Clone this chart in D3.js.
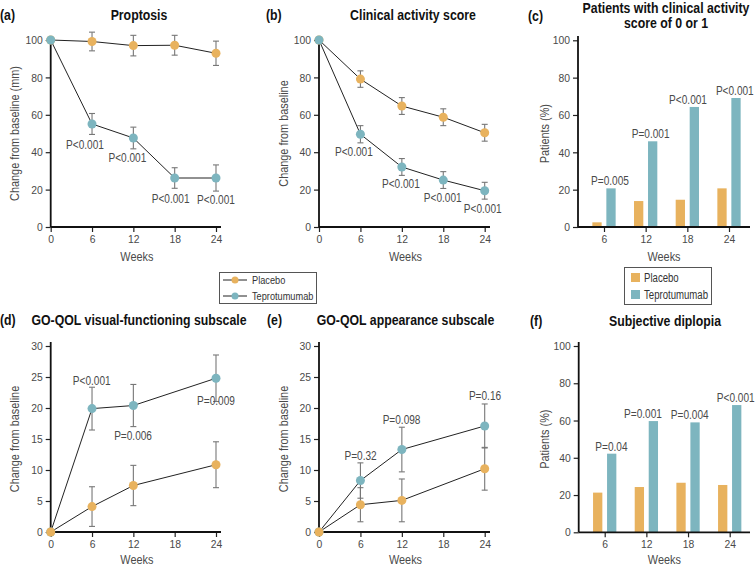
<!DOCTYPE html>
<html><head><meta charset="utf-8">
<script src="https://cdn.jsdelivr.net/npm/d3@7"></script>
<style>
body{margin:0;background:#fff;}
svg text{font-family:"Liberation Sans",Arial,sans-serif;}
</style></head><body>
<svg id="c" width="755" height="566"></svg>
<script>
// ---------- DATA ----------
const weeks = [0, 6, 12, 18, 24];
const weeksD = [0, 6, 12, 24];
const barWeeks = ["6", "12", "18", "24"];
const seriesNames = ["Placebo", "Teprotumumab"];

// (a) Proptosis
const propPlacebo = [100, 99.2, 97.0, 97.2, 92.9];
const propPlaceboErr = [0, 5.0, 5.5, 5.3, 6.5];
const propTepro = [100, 55.1, 47.6, 26.2, 26.2];
const propTeproErr = [0, 5.6, 5.8, 5.5, 7.0];
const propP = ["", "P<0.001", "P<0.001", "P<0.001", "P<0.001"];

// (b) Clinical activity score
const casPlacebo = [100, 79.1, 64.7, 58.7, 50.4];
const casPlaceboErr = [0, 4.4, 4.5, 4.5, 4.5];
const casTepro = [100, 49.6, 32.1, 25.1, 19.4];
const casTeproErr = [0, 4.6, 4.5, 4.5, 4.5];
const casP = ["", "P<0.001", "P<0.001", "P<0.001", "P<0.001"];

// (c) Patients with CAS 0 or 1
const cas01Placebo = [2.5, 13.9, 14.6, 20.7];
const cas01Tepro = [20.7, 45.9, 64.3, 69.1];
const cas01P = ["P=0.005", "P=0.001", "P<0.001", "P<0.001"];

// (d) GO-QOL visual functioning
const visPlacebo = [0, 4.1, 7.5, 10.85];
const visPlaceboErr = [0, 3.2, 3.25, 3.7];
const visTepro = [0, 19.9, 20.4, 24.8];
const visTeproErr = [0, 3.45, 3.4, 3.75];
const visP = ["", "P<0.001", "P=0.006", "P=0.009"];

// (e) GO-QOL appearance
const appPlacebo = [0, 4.4, 5.1, 10.2];
const appPlaceboErr = [0, 2.75, 3.45, 3.45];
const appTepro = [0, 8.3, 13.3, 17.1];
const appTeproErr = [0, 2.85, 3.6, 3.55];
const appP = ["", "P=0.32", "P=0.098", "P=0.16"];

// (f) Subjective diplopia
const dipPlacebo = [21.3, 24.3, 26.6, 25.4];
const dipTepro = [42.2, 59.7, 59.0, 68.3];
const dipP = ["P=0.04", "P=0.001", "P=0.004", "P<0.001"];

const yTicks100 = [0, 20, 40, 60, 80, 100];
const yTicks30 = [0, 5, 10, 15, 20, 25, 30];
const xTicks = [0, 6, 12, 18, 24];

// ---------- STYLE ----------
const cPlacebo = "#E8B25E";
const cTepro = "#7DB5BF";
const textCol = "#4a4a4a";
const svg = d3.select("#c");

function axes(g, x, y, yT, xT, xEnd, yTop, isBand) {
  const xa = (isBand ? d3.axisBottom(x) : d3.axisBottom(x).tickValues(xT))
    .tickSize(5).tickPadding(3).tickSizeOuter(0);
  const gx = g.append("g").attr("transform", `translate(0,${y.range()[0]})`).call(xa);
  const x0 = isBand ? +g.attr("data-x0") : x.range()[0];
  const ya = d3.axisLeft(y).tickValues(yT).tickSize(5).tickPadding(3).tickSizeOuter(0);
  const gy = g.append("g").attr("transform", `translate(${x0},0)`).call(ya);
  [gx, gy].forEach(a => {
    a.select(".domain").remove();
    a.selectAll(".tick line").attr("stroke", "#222").attr("stroke-width", 1.2);
    a.selectAll(".tick text").attr("fill", textCol).style("font-size", "11.5px").attr("data-k", 0.9);
  });
  g.append("line").attr("x1", x0).attr("x2", xEnd).attr("y1", y.range()[0]).attr("y2", y.range()[0])
    .attr("stroke", "#111").attr("stroke-width", 1.8);
  g.append("line").attr("x1", x0).attr("x2", x0).attr("y1", y.range()[0]).attr("y2", yTop)
    .attr("stroke", "#111").attr("stroke-width", 1.8);
}

function labels(g, letter, lx, ly, titleLines, tx, ty, ylab, ylx, yly, wx, wy) {
  g.append("text").attr("x", lx).attr("y", ly).attr("dominant-baseline", "central")
    .style("font-size", "15px").style("font-weight", "bold").attr("fill", "#111").text(letter);
  titleLines.forEach((t, i) => g.append("text").attr("x", tx).attr("y", ty + i * 14.5)
    .attr("text-anchor", "middle").attr("dominant-baseline", "central")
    .style("font-size", "15px").style("font-weight", "bold").attr("fill", "#111").text(t));
  g.append("text").attr("transform", `translate(${ylx},${yly}) rotate(-90)`)
    .attr("text-anchor", "middle").attr("dominant-baseline", "central").attr("data-k", 0.87)
    .style("font-size", "12.5px").attr("fill", textCol).text(ylab);
  g.append("text").attr("x", wx).attr("y", wy).attr("text-anchor", "middle").attr("dominant-baseline", "central")
    .attr("data-k", 0.87).style("font-size", "12.5px").attr("fill", textCol).text("Weeks");
}

function linePanel(cfg) {
  const g = svg.append("g");
  const x = d3.scaleLinear().domain([0, 24]).range([cfg.x0, cfg.x1]);
  const y = d3.scaleLinear().domain(cfg.yDom).range([cfg.yb, cfg.yt]);
  axes(g, x, y, cfg.yTicks, xTicks, cfg.xEnd, cfg.yTop, false);
  const line = d3.line().x(d => x(d.w)).y(d => y(d.v));
  const series = [
    { vals: cfg.pl, err: cfg.plErr, col: cPlacebo },
    { vals: cfg.te, err: cfg.teErr, col: cTepro }
  ].map(s => ({ ...s, pts: cfg.w.map((w, i) => ({ w, v: s.vals[i], e: s.err[i] })) }));
  series.forEach(s => {
    s.pts.filter(p => p.e > 0).forEach(p => {
      const gx = x(p.w);
      g.append("line").attr("x1", gx).attr("x2", gx).attr("y1", y(p.v - p.e)).attr("y2", y(p.v + p.e))
        .attr("stroke", "#777").attr("stroke-width", 1.1);
      [p.v - p.e, p.v + p.e].forEach(v => g.append("line").attr("x1", gx - 3).attr("x2", gx + 3)
        .attr("y1", y(v)).attr("y2", y(v)).attr("stroke", "#777").attr("stroke-width", 1.1));
    });
  });
  series.forEach(s => g.append("path").datum(s.pts).attr("d", line).attr("fill", "none")
    .attr("stroke", "#222").attr("stroke-width", 1));
  const order = cfg.placeboOnTop ? [series[1], series[0]] : series;
  order.forEach(s => g.selectAll(null).data(s.pts).enter().append("circle")
    .attr("cx", d => x(d.w)).attr("cy", d => y(d.v)).attr("r", 4.5).attr("fill", s.col));
  cfg.pLabels.forEach((t, i) => {
    if (!t) return;
    const off = cfg.pOff[i];
    g.append("text").attr("x", x(cfg.w[i]) + off[0]).attr("y", y(cfg.te[i]) + off[1])
      .attr("text-anchor", "middle").attr("dominant-baseline", "central").attr("data-k", 0.84)
      .style("font-size", "12px").attr("fill", textCol).text(t);
  });
  labels(g, cfg.letter, cfg.lx, cfg.ly, cfg.title, cfg.tx, cfg.ty, cfg.ylab, cfg.ylx, (cfg.yb + cfg.yt) / 2, (cfg.x0 + cfg.xEnd) / 2 + 1, cfg.wy);
}

function barPanel(cfg) {
  const g = svg.append("g").attr("data-x0", cfg.x0);
  const x = d3.scalePoint().domain(barWeeks).range([cfg.x0 + 26, cfg.x0 + 151]);
  const x1 = d3.scaleBand().domain(seriesNames).range([-11.65, 11.65]).paddingInner(0.336);
  const y = d3.scaleLinear().domain([0, 100]).range([cfg.yb, cfg.yt]);
  [cfg.pl, cfg.te].forEach((vals, si) => {
    g.selectAll(null).data(vals).enter().append("rect")
      .attr("x", (d, i) => x(barWeeks[i]) + x1(seriesNames[si]))
      .attr("width", x1.bandwidth())
      .attr("y", d => y(d)).attr("height", d => y(0) - y(d))
      .attr("fill", si ? cTepro : cPlacebo);
  });
  axes(g, x, y, yTicks100, null, cfg.xEnd, cfg.yTop, true);
  cfg.pLabels.forEach((t, i) => {
    g.append("text").attr("x", x(barWeeks[i]) + cfg.pDx[i]).attr("y", y(cfg.te[i]) - 7)
      .attr("text-anchor", "middle").attr("dominant-baseline", "central").attr("data-k", 0.84)
      .style("font-size", "12px").attr("fill", textCol).text(t);
  });
  labels(g, cfg.letter, cfg.lx, cfg.ly, cfg.title, cfg.tx, cfg.ty, "Patients (%)", cfg.ylx, (cfg.yb + cfg.yt) / 2, (cfg.x0 + cfg.xEnd) / 2, cfg.wy);
}

linePanel({ x0: 50.7, x1: 216, xEnd: 221, yb: 227, yt: 40, yTop: 36, yDom: [0, 100], yTicks: yTicks100, w: weeks,
  pl: propPlacebo, plErr: propPlaceboErr, te: propTepro, teErr: propTeproErr,
  pLabels: propP, pOff: [[0,0],[-7,21],[-6,20],[-4,21],[0,22]],
  letter: "(a)", lx: 0, ly: 14, title: ["Proptosis"], tx: 139, ty: 14,
  ylab: "Change from baseline (mm)", ylx: 15, wy: 257 });

linePanel({ x0: 319, x1: 484.7, xEnd: 490, yb: 227, yt: 40, yTop: 36, yDom: [0, 100], yTicks: yTicks100, w: weeks,
  pl: casPlacebo, plErr: casPlaceboErr, te: casTepro, teErr: casTeproErr,
  pLabels: casP, pOff: [[0,0],[-6.5,18],[-1,17],[-0.5,18],[-2,18.5]],
  letter: "(b)", lx: 266, ly: 14, title: ["Clinical activity score"], tx: 413, ty: 14,
  ylab: "Change from baseline", ylx: 284, wy: 257 });

barPanel({ x0: 578, xEnd: 750, yb: 227, yt: 40.3, yTop: 36,
  pl: cas01Placebo, te: cas01Tepro, pLabels: cas01P, pDx: [6, 5, 0.7, 5.8],
  letter: "(c)", lx: 528, ly: 15, title: ["Patients with clinical activity", "score of 0 or 1"], tx: 666, ty: 7.5,
  ylx: 544.5, wy: 257 });

linePanel({ x0: 50.7, x1: 216, xEnd: 221, yb: 532, yt: 346, yTop: 342, yDom: [0, 30], yTicks: yTicks30, w: weeksD,
  pl: visPlacebo, plErr: visPlaceboErr, te: visTepro, teErr: visTeproErr, placeboOnTop: true,
  pLabels: visP, pOff: [[0,0],[-0.3,-28],[-0.3,30.4],[0,23]],
  letter: "(d)", lx: 0, ly: 319, title: ["GO-QOL visual-functioning subscale"], tx: 139, ty: 319,
  ylab: "Change from baseline", ylx: 15, wy: 560 });

linePanel({ x0: 319, x1: 484.7, xEnd: 490, yb: 532, yt: 346, yTop: 342, yDom: [0, 30], yTicks: yTicks30, w: weeksD,
  pl: appPlacebo, plErr: appPlaceboErr, te: appTepro, teErr: appTeproErr, placeboOnTop: true,
  pLabels: appP, pOff: [[0,0],[0.2,-25],[-0.3,-29.7],[0.3,-29.7]],
  letter: "(e)", lx: 267, ly: 319, title: ["GO-QOL appearance subscale"], tx: 405.5, ty: 319,
  ylab: "Change from baseline", ylx: 284, wy: 560 });

barPanel({ x0: 578.7, xEnd: 750, yb: 532.3, yt: 346, yTop: 342,
  pl: dipPlacebo, te: dipTepro, pLabels: dipP, pDx: [6.7, -3.4, 1.7, 6],
  letter: "(f)", lx: 530, ly: 320, title: ["Subjective diplopia"], tx: 665, ty: 320,
  ylx: 545, wy: 560 });

// ---------- LEGENDS ----------
const lg1 = svg.append("g");
lg1.append("rect").attr("x", 219.5).attr("y", 272.5).attr("width", 97).attr("height", 31)
  .attr("fill", "#fff").attr("stroke", "#555").attr("stroke-width", 1);
seriesNames.forEach((n, i) => {
  const yy = 280 + i * 16;
  lg1.append("line").attr("x1", 223).attr("x2", 247).attr("y1", yy).attr("y2", yy).attr("stroke", "#222").attr("stroke-width", 1);
  lg1.append("circle").attr("cx", 235).attr("cy", yy).attr("r", 3.5).attr("fill", i ? cTepro : cPlacebo);
  lg1.append("text").attr("x", 252).attr("y", yy).attr("dominant-baseline", "central").attr("data-k", 0.8)
    .style("font-size", "11.5px").attr("fill", "#333").text(n);
});
const lg2 = svg.append("g");
lg2.append("rect").attr("x", 624.5).attr("y", 267.5).attr("width", 87).attr("height", 37)
  .attr("fill", "#fff").attr("stroke", "#555").attr("stroke-width", 1);
seriesNames.forEach((n, i) => {
  const yy = 277.5 + i * 17;
  lg2.append("rect").attr("x", 631).attr("y", yy - 4.5).attr("width", 9).attr("height", 9).attr("fill", i ? cTepro : cPlacebo);
  lg2.append("text").attr("x", 644).attr("y", yy).attr("dominant-baseline", "central").attr("data-k", 0.8)
    .style("font-size", "12px").attr("fill", "#333").text(n);
});

// condensed look: compress every text horizontally like a narrow typeface
svg.selectAll("text").each(function () {
  const k = +(this.getAttribute("data-k") || 0.82);
  const w = this.getComputedTextLength();
  this.setAttribute("textLength", (w * k).toFixed(2));
  this.setAttribute("lengthAdjust", "spacingAndGlyphs");
});
</script></body></html>
